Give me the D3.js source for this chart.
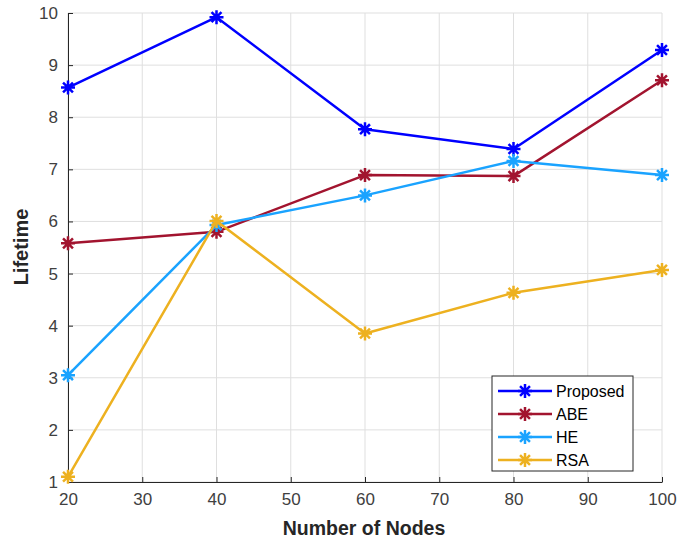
<!DOCTYPE html>
<html>
<head>
<meta charset="utf-8">
<script src="https://cdn.jsdelivr.net/npm/d3@7"></script>
<style>
  body { margin: 0; background: #fff; }
  text { font-family: "Liberation Sans", Arial, sans-serif; }
</style>
</head>
<body>
<div id="graph"></div>
<script>
const nodes = [20, 40, 60, 80, 100];
const proposed = [8.57, 9.92, 7.77, 7.39, 9.29];
const abe = [5.58, 5.80, 6.89, 6.87, 8.71];
const he = [3.05, 5.93, 6.50, 7.16, 6.89];
const rsa = [1.10, 6.01, 3.85, 4.63, 5.07];
const seriesNames = ["Proposed", "ABE", "HE", "RSA"];
const xTicks = [20, 30, 40, 50, 60, 70, 80, 90, 100];
const yTicks = [1, 2, 3, 4, 5, 6, 7, 8, 9, 10];

const width = 677, height = 542;
const padding = {left: 68, right: 15, top: 13, bottom: 60};
const colors = ["#0000ff", "#a2142f", "#1aa3ff", "#edb120"];

const series = [proposed, abe, he, rsa].map((v, i) => ({
	name: seriesNames[i],
	color: colors[i],
	data: v.map((y, j) => ({x: nodes[j], y: y}))
}));

const graph = d3.select("div#graph")
	.append("svg")
	.attr("width", width)
	.attr("height", height);

const xScale = d3.scaleLinear()
	.range([padding.left, width - padding.right])
	.domain([20, 100]);

const yScale = d3.scaleLinear()
	.range([height - padding.bottom, padding.top])
	.domain([1, 10]);

// grid
graph.append("g").selectAll("line.gx").data(xTicks).enter()
	.append("line")
	.attr("x1", d => xScale(d)).attr("x2", d => xScale(d))
	.attr("y1", padding.top).attr("y2", height - padding.bottom)
	.attr("stroke", "#dfdfdf").attr("stroke-width", 1);
graph.append("g").selectAll("line.gy").data(yTicks).enter()
	.append("line")
	.attr("y1", d => yScale(d)).attr("y2", d => yScale(d))
	.attr("x1", padding.left).attr("x2", width - padding.right)
	.attr("stroke", "#dfdfdf").attr("stroke-width", 1);

const xAxis = d3.axisBottom(xScale).tickValues(xTicks).tickSizeInner(-5).tickSizeOuter(0).tickPadding(11);
const yAxis = d3.axisLeft(yScale).tickValues(yTicks).tickSizeInner(-5).tickSizeOuter(0).tickPadding(10);

graph.append("g")
	.attr("class", "x axis")
	.attr("transform", `translate(0, ${height - padding.bottom})`)
	.call(xAxis);

graph.append("g")
	.attr("class", "y axis")
	.attr("transform", `translate(${padding.left}, 0)`)
	.call(yAxis);

graph.selectAll(".axis path, .axis line").attr("stroke", "#262626");
graph.selectAll(".axis text").attr("fill", "#404040").style("font-size", "17px");

graph.append("text")
	.attr("x", 364)
	.attr("y", 535)
	.style("text-anchor", "middle")
	.style("font-size", "19.5px")
	.style("font-weight", "bold")
	.attr("fill", "#262626")
	.text("Number of Nodes");

graph.append("text")
	.attr("transform", "rotate(-90)")
	.attr("x", -247)
	.attr("y", 28)
	.style("text-anchor", "middle")
	.style("font-size", "20px")
	.style("font-weight", "bold")
	.attr("fill", "#262626")
	.text("Lifetime");

const line = d3.line()
	.x(d => xScale(d.x))
	.y(d => yScale(d.y));

// asterisk marker path
function star(r) {
	const a = r * 0.7071;
	return `M${-r},0L${r},0M0,${-r}L0,${r}M${-a},${-a}L${a},${a}M${-a},${a}L${a},${-a}`;
}

series.forEach(s => {
	const g = graph.append("g").attr("id", s.name);
	g.append("path").datum(s.data)
		.attr("fill", "none")
		.attr("stroke", s.color)
		.attr("stroke-width", 2.5)
		.attr("stroke-linejoin", "round")
		.attr("d", line);
	g.selectAll("path.mk").data(s.data).enter()
		.append("path")
		.attr("class", "mk")
		.attr("transform", d => `translate(${xScale(d.x)},${yScale(d.y)})`)
		.attr("d", star(7))
		.attr("stroke", s.color)
		.attr("stroke-width", 2.5)
		.attr("fill", "none");
});

// legend
const legend = graph.append("g")
	.attr("class", "legend")
	.attr("transform", "translate(492,376)");
legend.append("rect")
	.attr("width", 141).attr("height", 95)
	.attr("fill", "#fff").attr("stroke", "#262626").attr("stroke-width", 1);
series.forEach((s, i) => {
	const y = 15 + i * 23;
	legend.append("line")
		.attr("x1", 6).attr("x2", 60).attr("y1", y).attr("y2", y)
		.attr("stroke", s.color).attr("stroke-width", 2.5);
	legend.append("path")
		.attr("transform", `translate(33,${y})`)
		.attr("d", star(7))
		.attr("stroke", s.color).attr("stroke-width", 2.5);
	legend.append("text")
		.attr("x", 64).attr("y", y).attr("dy", "0.36em")
		.style("font-size", "16px")
		.attr("fill", "#000")
		.text(s.name);
});
</script>
</body>
</html>
